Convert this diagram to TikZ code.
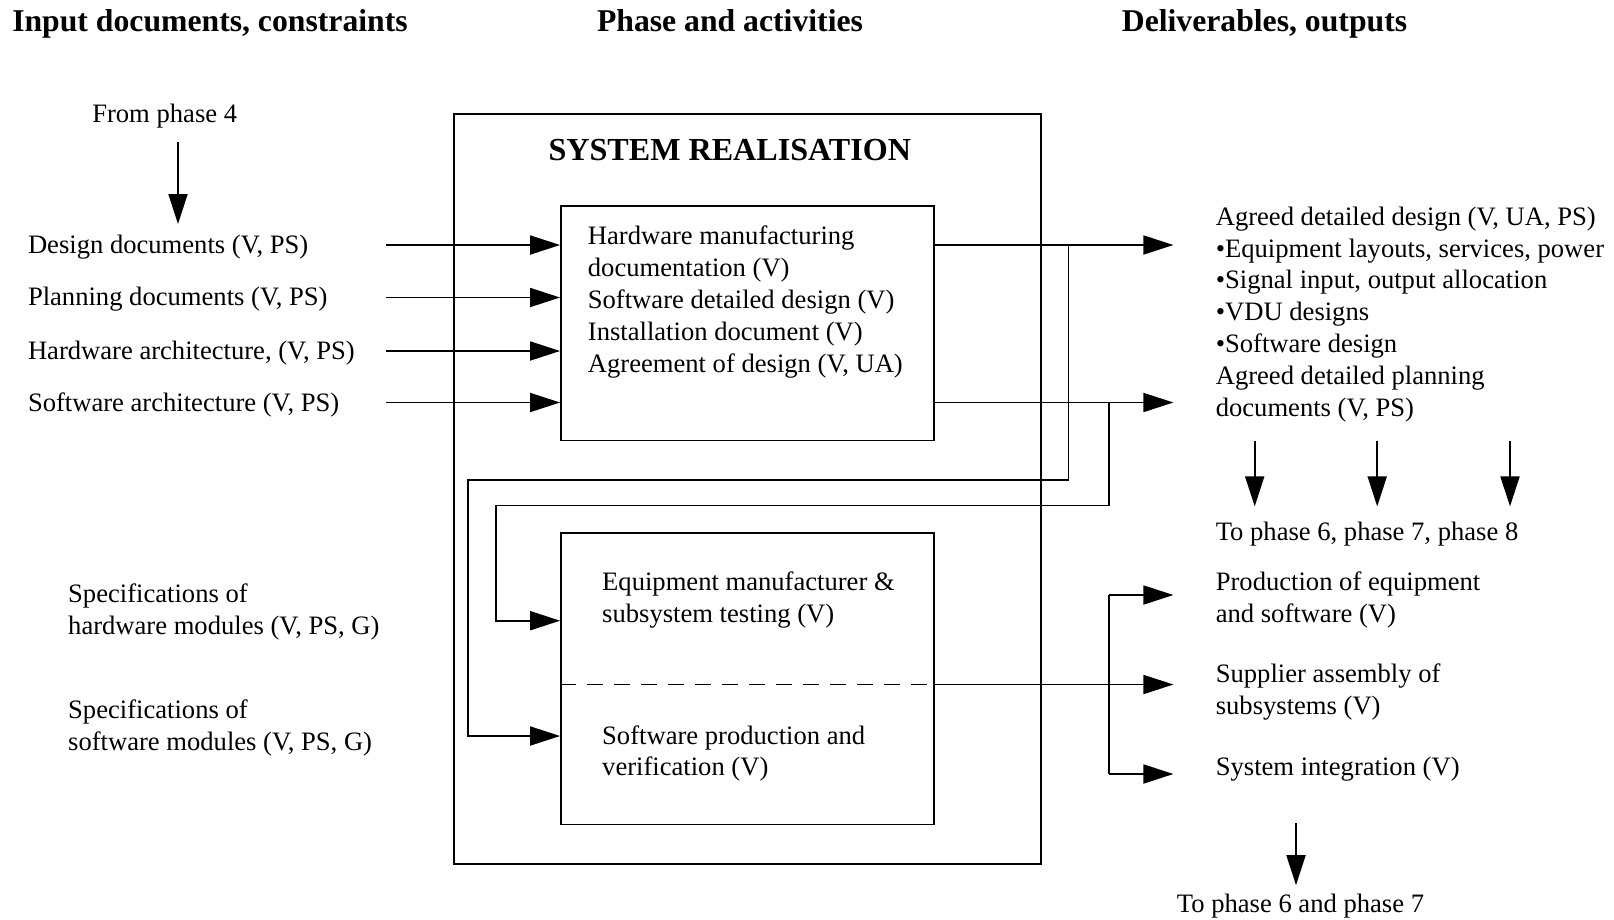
\documentclass[tikz,border=0pt]{standalone}
\usepackage{fontspec}
\setmainfont{Liberation Serif}
\usetikzlibrary{arrows.meta,calc}
\begin{document}
\begin{tikzpicture}[x=1pt,y=-1pt,
 lbl/.style={anchor=west,inner sep=0pt,yshift=-2pt,font=\fontsize{26.6}{31.9}\selectfont,align=left},
 hdr/.style={inner sep=0pt,anchor=base,font=\fontsize{31.7}{36}\selectfont\bfseries},
 box/.style={draw,line width=1.8pt,inner sep=0pt},
 ln/.style={line width=1.8pt},
 arr/.style={line width=1.8pt,-{Triangle[length=30pt,width=19pt]}}]
\useasboundingbox (0,0) rectangle (1614,919);

% headers
\node[hdr] (h1) at (210,31.5) {Input documents, constraints};
\node[hdr] (h2) at (730,31.5) {Phase and activities};
\node[hdr] (h3) at (1264.5,31.5) {Deliverables, outputs};

% from phase 4
\node[lbl,anchor=center] (fp4) at (164.7,114) {From phase 4};
\coordinate (fa) at (178,142);
\coordinate (fb) at (178,224);
\draw[arr] (fa) -- (fb);

% input labels
\node[lbl] (in1) at (27.8,245) {Design documents (V, PS)};
\node[lbl] (in2) at (27.8,297.5) {Planning documents (V, PS)};
\node[lbl] (in3) at (27.8,351) {Hardware architecture, (V, PS)};
\node[lbl] (in4) at (27.8,402.5) {Software architecture (V, PS)};
\node[lbl] (sp1) at (68,610.4) {Specifications of\\hardware modules (V, PS, G)};
\node[lbl] (sp2) at (68,725.6) {Specifications of\\software modules (V, PS, G)};

% boxes
\node[box,minimum width=586.6pt,minimum height=749.6pt] (outer) at (747.3,488.8) {};
\node[hdr,anchor=center,yshift=-2pt,font=\fontsize{32.1}{36}\selectfont\bfseries] (title) at (729.8,148) {SYSTEM REALISATION};
\node[box,minimum width=372.6pt,minimum height=234.5pt] (b1) at (747.3,323.25) {};
\node[lbl] (b1t) at (587.7,300) {Hardware manufacturing\\documentation (V)\\Software detailed design (V)\\Installation document (V)\\Agreement of design (V, UA)};
\node[box,minimum width=372.6pt,minimum height=291.5pt] (b2) at (747.3,678.75) {};
\node[lbl] (b2a) at (602,598) {Equipment manufacturer \&\\subsystem testing (V)};
\node[lbl] (b2b) at (602,751.5) {Software production and\\verification (V)};
\coordinate (dy) at (0,684.5);
\draw[ln,dash pattern=on 16pt off 11pt] (b2.west |- dy) -- (b2.east |- dy);

% input arrows
\coordinate (s1) at (386,245);
\coordinate (s2) at (386,297.5);
\coordinate (s3) at (386,351);
\coordinate (s4) at (386,402.5);
\foreach \s in {s1,s2,s3,s4} \draw[arr] (\s) -- (\s -| b1.west);

% outputs of box 1
\coordinate (e1) at (1173.4,245);
\coordinate (e2) at (1173.4,402.5);
\draw[arr] (s1 -| b1.east) -- (e1);
\draw[arr] (s4 -| b1.east) -- (e2);

% feedback loops
\coordinate (k1) at (1068.4,245);
\coordinate (k1b) at (1068.4,479.7);
\coordinate (k1c) at (468.3,479.7);
\coordinate (k1d) at (468.3,736);
\draw[arr] (k1) -- (k1b) -- (k1c) -- (k1d) -- (k1d -| b2.west);
\coordinate (k2) at (1108.6,402.5);
\coordinate (k2b) at (1108.6,505.4);
\coordinate (k2c) at (496.1,505.4);
\coordinate (k2d) at (496.1,620.7);
\draw[arr] (k2) -- (k2b) -- (k2c) -- (k2d) -- (k2d -| b2.west);

% outputs of box 2
\coordinate (v1) at (1108.6,595);
\coordinate (v2) at (1108.6,774);
\draw[arr] (b2.east |- dy) -- (e1 |- dy);
\draw[ln] (v1) -- (v2);
\draw[arr] (v1) -- (v1 -| e1);
\draw[arr] (v2) -- (v2 -| e1);

% output texts
\node[lbl] (o1) at (1215.6,312.4) {Agreed detailed design (V, UA, PS)\\\textbullet Equipment layouts, services, power\\\textbullet Signal input, output allocation\\\textbullet VDU designs\\\textbullet Software design\\Agreed detailed planning\\documents (V, PS)};
\coordinate (d1a) at (1254.7,440.5); \coordinate (d1b) at (1254.7,506.4);
\coordinate (d2a) at (1377.2,440.5); \coordinate (d2b) at (1377.2,506.4);
\coordinate (d3a) at (1510,440.5); \coordinate (d3b) at (1510,506.4);
\draw[arr] (d1a) -- (d1b);
\draw[arr] (d2a) -- (d2b);
\draw[arr] (d3a) -- (d3b);
\node[lbl] (to678) at (1215.6,532) {To phase 6, phase 7, phase 8};

\node[lbl] (r1) at (1215.6,598) {Production of equipment\\and software (V)};
\node[lbl] (r2) at (1215.6,689.6) {Supplier assembly of\\subsystems (V)};
\node[lbl] (r3) at (1215.6,766.8) {System integration (V)};
\coordinate (d4a) at (1296,823.4); \coordinate (d4b) at (1296,885.2);
\draw[arr] (d4a) -- (d4b);
\node[lbl,anchor=center] (to67) at (1300.5,903.7) {To phase 6 and phase 7};
\end{tikzpicture}
\end{document}
